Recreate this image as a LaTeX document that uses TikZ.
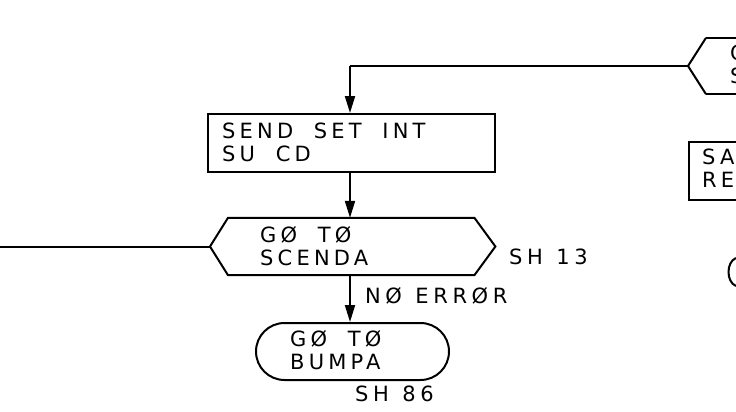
\documentclass[tikz,border=0pt]{standalone}
\usepackage{fontspec}
\setmainfont{DejaVu Sans}[LetterSpace=20,WordSpace=1.9]
\newfontfamily\shfont{DejaVu Sans}[LetterSpace=22,WordSpace=1.2]
\usetikzlibrary{arrows.meta,shapes.misc}
\begin{document}
\begin{tikzpicture}[x=1pt,y=-1pt,
  ln/.style={line width=2pt},
  arr/.style={ln,-{Triangle[length=17pt,width=10pt]}},
  txt/.style={font=\fontsize{21}{23}\selectfont,align=left,inner sep=0pt},
  lbl/.style={font=\fontsize{21}{23}\selectfont,inner sep=0pt},
  shlbl/.style={font=\shfont\fontsize{21}{23}\selectfont,inner sep=0pt},
  boxnode/.style={draw,ln,rectangle,inner sep=0pt},
  hexnode/.style={rectangle,inner sep=0pt},
  termnode/.style={draw,ln,rounded rectangle,inner sep=0pt}]
\clip (0,0) rectangle (736,412);
\fill[white] (0,0) rectangle (736,412);
% top-right hexagon (partial)
\node[hexnode,minimum width=120,minimum height=56,anchor=west] (tophex) at (688,66) {};
\draw[ln] ([xshift=18]tophex.north west) -- (tophex.west) -- ([xshift=18]tophex.south west);
\draw[ln] ([xshift=18]tophex.north west) -- (tophex.north east);
\draw[ln] ([xshift=18]tophex.south west) -- (tophex.south east);
\node[txt,anchor=west] (tophextext) at (730,64) {G\\S};
% SEND box
\node[boxnode,minimum width=287,minimum height=58,anchor=north west] (send) at (207,113) {};
\node[txt,anchor=west] (sendtext) at (222,142) {SEND SET INT\\SU CD};
% SA/RE box (partial)
\node[boxnode,minimum width=100,minimum height=58,anchor=north west] (sa) at (688,141) {};
\node[txt,anchor=west] (satext) at (702,168) {SA\\RE};
% SCENDA hexagon
\node[hexnode,minimum width=285,minimum height=57,anchor=west] (scenda) at (210,246.5) {};
\draw[ln] (scenda.west) -- ([xshift=18]scenda.north west) -- ([xshift=-21]scenda.north east)
  -- (scenda.east) -- ([xshift=-21]scenda.south east) -- ([xshift=18]scenda.south west) -- cycle;
\node[txt,anchor=west] (scendatext) at (260,246) {GØ TØ\\SCENDA};
\node[shlbl,anchor=west] (sh13) at (509,257) {SH 13};
% BUMPA terminal
\node[termnode,minimum width=193,minimum height=57] (bumpa) at (352.5,351.5) {};
\node[txt,anchor=west] (bumpatext) at (290,350) {GØ TØ\\BUMPA};
\node[shlbl,anchor=west] (sh86) at (355,394) {SH 86};
% partial terminal at right edge
\draw[ln] (736,258) .. controls (726,262) and (726,282) .. (736,286);
% connectors
\coordinate (corner) at (350,66);
\coordinate (leftend) at (0,246.5);
\draw[ln] (tophex.west) -- (corner);
\draw[arr] (corner) -- (send.north -| corner);
\draw[arr] (send.south -| corner) -- (scenda.north -| corner);
\draw[arr] (scenda.south -| corner) -- node[shlbl,right=14pt,pos=0.45] {NØ ERRØR} (bumpa.north -| corner);
\draw[ln] (leftend) -- (scenda.west);
\end{tikzpicture}
\end{document}
